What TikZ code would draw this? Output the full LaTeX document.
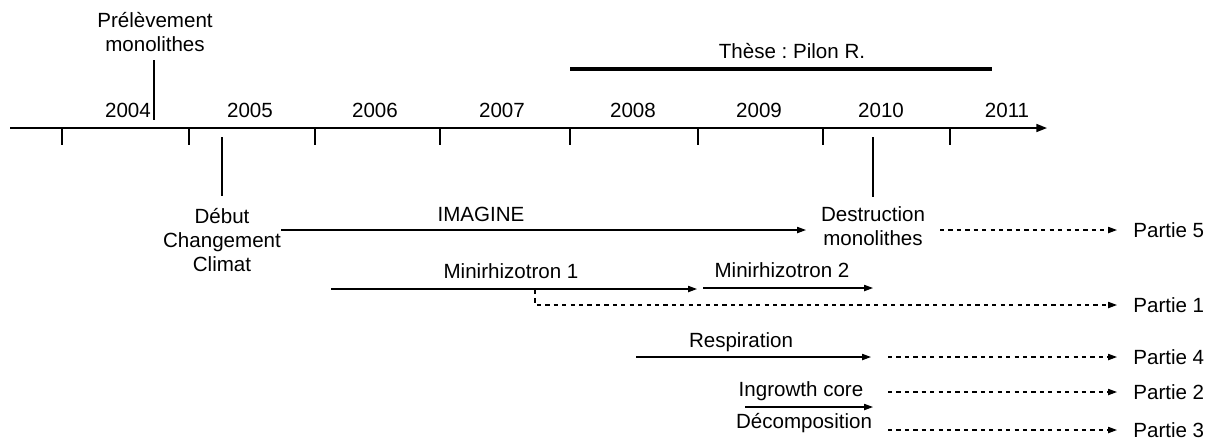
\documentclass[tikz,border=0pt]{standalone}
\usepackage{fontspec}
\setmainfont{Liberation Sans}
\usepackage{tikz}
\usetikzlibrary{arrows.meta}
\frenchspacing
\tikzset{
    lbl/.style = {align=center, inner sep=0pt, font=\fontsize{11.7}{13.6}\selectfont},
    yearlabel/.style = {lbl},
    partlabel/.style = {lbl, anchor=west},
    tickline/.style = {line width=0.6pt},
    eventline/.style = {line width=0.6pt},
    axisline/.style = {line width=0.9pt, -{Triangle[length=6pt,width=4.5pt]}},
    period/.style = {line width=0.7pt, -{Triangle[length=5pt,width=3.5pt]}},
    follow/.style = {line width=0.7pt, dash pattern=on 2.4pt off 2.4pt, -{Triangle[length=5pt,width=3.5pt]}, shorten >=0.32cm},
    thesis/.style = {line width=1.8pt}
}
\begin{document}
\begin{tikzpicture}[x=0.02cm, y=-0.02cm]
    \useasboundingbox (0,0) rectangle (1228,441);
    % axe du temps
    \coordinate (axstart) at (10,128);
    \coordinate (axend) at (1047,128);
    \draw [axisline] (axstart) -- (axend);
    \foreach \t/\x in {a/62, b/189, c/315, d/440, e/570, f/698, g/823, h/950} {
        \coordinate (tk\t) at (\x,128);
        \draw [tickline] (tk\t) -- ++(0,17);
    }
    \foreach \yr/\x in {2004/128, 2005/250, 2006/375, 2007/502, 2008/633, 2009/759, 2010/881, 2011/1007} {
        \node [yearlabel] (y\yr) at (\x,110) {\yr};
    }
    % evenements
    \node [lbl] (prelev) at (155,32) {Prélèvement\\monolithes};
    \coordinate (prelevtop) at (154,60);
    \coordinate (prelevbot) at (154,120);
    \draw [eventline] (prelevtop) -- (prelevbot);
    \node [lbl] (debut) at (222,240) {Début\\Changement\\Climat};
    \coordinate (debuttop) at (222,137);
    \coordinate (debutbot) at (222,196);
    \draw [eventline] (debuttop) -- (debutbot);
    \node [lbl] (destr) at (873,226) {Destruction\\monolithes};
    \coordinate (destrtop) at (873,137);
    \coordinate (destrbot) at (873,197);
    \draw [eventline] (destrtop) -- (destrbot);
    % these
    \node [lbl] (these) at (792,51) {Thèse : Pilon R.};
    \coordinate (thstart) at (570,69);
    \coordinate (thend) at (992,69);
    \draw [thesis] (thstart) -- (thend);
    % parties
    \node [partlabel] (p5) at (1133,230) {Partie 5};
    \node [partlabel] (p1) at (1133,305) {Partie 1};
    \node [partlabel] (p4) at (1133,357) {Partie 4};
    \node [partlabel] (p2) at (1133,392) {Partie 2};
    \node [partlabel] (p3) at (1133,430) {Partie 3};
    % IMAGINE
    \node [lbl] (imagine) at (481,214) {IMAGINE};
    \coordinate (imstart) at (281,230);
    \coordinate (imend) at (806,230);
    \draw [period] (imstart) -- (imend);
    \coordinate (d5) at (940,230);
    \draw [follow] (d5) -- (p5.west);
    % minirhizotrons
    \node [lbl] (mini1) at (511,271) {Minirhizotron 1};
    \coordinate (m1start) at (331,289);
    \coordinate (m1end) at (697,289);
    \draw [period] (m1start) -- (m1end);
    \node [lbl] (mini2) at (782,270) {Minirhizotron 2};
    \coordinate (m2start) at (703,288);
    \coordinate (m2end) at (873,288);
    \draw [period] (m2start) -- (m2end);
    \coordinate (d1) at (535,290);
    \draw [follow] (d1) |- (p1.west);
    % respiration
    \node [lbl] (resp) at (741,342) {Respiration};
    \coordinate (rstart) at (636,357);
    \coordinate (rend) at (871,357);
    \draw [period] (rstart) -- (rend);
    \coordinate (d4) at (888,357);
    \draw [follow] (d4) -- (p4.west);
    % ingrowth core et decomposition
    \node [lbl] (ingrowth) at (801,391) {Ingrowth core};
    \node [lbl] (decomp) at (804,423) {Décomposition};
    \coordinate (igstart) at (745,407);
    \coordinate (igend) at (873,407);
    \draw [period] (igstart) -- (igend);
    \coordinate (d2) at (888,392);
    \draw [follow] (d2) -- (p2.west);
    \coordinate (d3) at (888,430);
    \draw [follow] (d3) -- (p3.west);
\end{tikzpicture}
\end{document}
